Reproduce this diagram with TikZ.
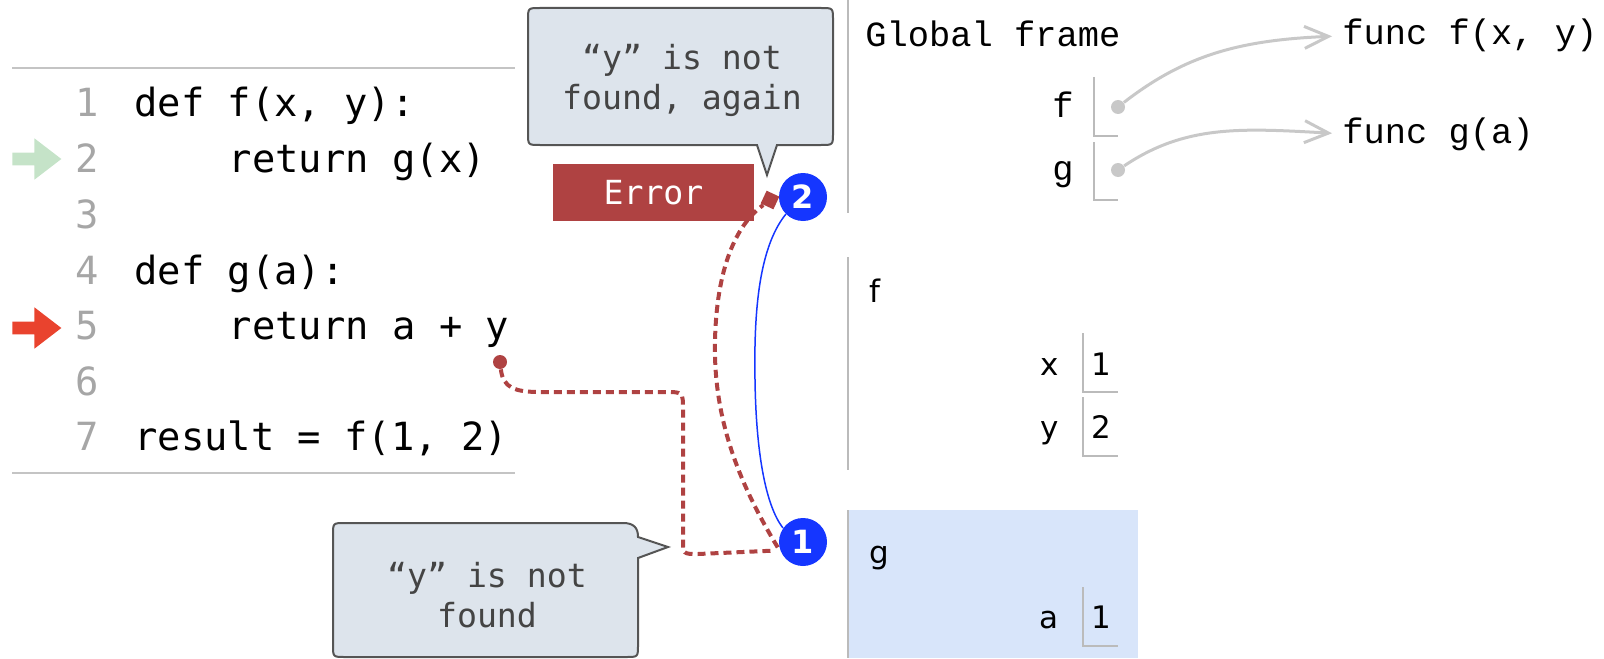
\documentclass[tikz,border=0pt]{standalone}
\usepackage{fontspec}
\setmainfont{DejaVu Sans}
\newfontfamily\codefont{DejaVu Sans Mono}
\newfontfamily\framefont{Liberation Mono}
\usetikzlibrary{arrows.meta,shapes.arrows}
\definecolor{numgray}{HTML}{A6A6A6}
\definecolor{rulegray}{HTML}{C4C4C4}
\definecolor{prevgreen}{HTML}{C5E3C8}
\definecolor{currred}{HTML}{E9432E}
\definecolor{notefill}{HTML}{DDE4EC}
\definecolor{notedraw}{HTML}{555555}
\definecolor{notetext}{HTML}{444444}
\definecolor{errred}{HTML}{AF4242}
\definecolor{hopblue}{HTML}{1536FF}
\definecolor{ptrgray}{HTML}{C8C8C8}
\definecolor{framegray}{HTML}{BBBBBB}
\definecolor{frameblue}{HTML}{D8E5FA}
\begin{document}
\begin{tikzpicture}[x=0.5pt,y=-0.5pt,
    code/.style={inner sep=0pt,anchor=base west,font=\codefont\fontsize{19.4pt}{24pt}\selectfont},
    lineno/.style={inner sep=0pt,anchor=base east,text=numgray,font=\codefont\fontsize{19.4pt}{24pt}\selectfont},
    linemark/.style={single arrow,anchor=tip,inner xsep=0pt,inner ysep=3pt,minimum height=24.5pt,minimum width=13pt,single arrow tip angle=75},
    rule/.style={draw=rulegray,line width=1pt},
    bubble/.style={fill=notefill,draw=notedraw,line width=1pt},
    note/.style={inner sep=0pt,align=center,text=notetext,font=\codefont\fontsize{16.6pt}{20pt}\selectfont},
    errbox/.style={fill=errred,text=white,inner sep=0pt,minimum width=100.5pt,minimum height=28.5pt,font=\codefont\fontsize{16.6pt}{20pt}\selectfont},
    hopmark/.style={circle,fill=hopblue,text=white,inner sep=0pt,minimum size=24pt,font=\bfseries\fontsize{16pt}{16pt}\selectfont},
    hopline/.style={draw=hopblue,line width=0.75pt},
    errpath/.style={draw=errred,line width=2pt,dash pattern=on 4pt off 2.5pt},
    frameline/.style={draw=framegray,line width=1pt},
    slot/.style={draw=framegray,line width=1pt},
    framename/.style={inner sep=0pt,anchor=base west,font=\framefont\fontsize{17.7pt}{20pt}\selectfont},
    gvar/.style={inner sep=0pt,anchor=base east,font=\framefont\fontsize{17.7pt}{20pt}\selectfont},
    fhead/.style={inner sep=0pt,anchor=base west,font=\fontsize{15.5pt}{18pt}\selectfont},
    lvar/.style={inner sep=0pt,anchor=base east,font=\fontsize{15.5pt}{18pt}\selectfont},
    lval/.style={inner sep=0pt,anchor=base west,font=\fontsize{15.5pt}{18pt}\selectfont},
    refdot/.style={circle,fill=ptrgray,inner sep=0pt,minimum size=7pt},
    ptr/.style={draw=ptrgray,line width=1.5pt,-{Straight Barb[length=12pt,width=11pt]},shorten >=5pt}]
    \useasboundingbox (0,0) rectangle (1604,658);
    % code listing
    \draw[rule] (12,68) -- (515,68);
    \draw[rule] (12,473) -- (515,473);
    \node[lineno] (n1) at (99,117) {1};
    \node[lineno] (n2) at (99,172.5) {2};
    \node[lineno] (n3) at (99,228) {3};
    \node[lineno] (n4) at (99,284) {4};
    \node[lineno] (n5) at (99,339.5) {5};
    \node[lineno] (n6) at (99,395) {6};
    \node[lineno] (n7) at (99,450.5) {7};
    \node[code] (c1) at (134,117) {def f(x, y):};
    \node[code] (c2) at (228.5,172.5) {return g(x)};
    \node[code] (c4) at (134,284) {def g(a):};
    \node[code] (c5) at (228.5,339.5) {return a + y};
    \node[code] (c7) at (134,450.5) {result = f(1, 2)};
    \node[linemark,fill=prevgreen] (prevmark) at (62,159) {};
    \node[linemark,fill=currred] (curmark) at (62,328) {};
    % callouts
    \draw[bubble] (540,8) -- (821,8) .. controls (833,8) .. (833,20) -- (833,133) .. controls (833,145) .. (821,145) -- (777,145) -- (767,175) -- (757,145) -- (540,145) .. controls (528,145) .. (528,133) -- (528,20) .. controls (528,8) .. cycle;
    \node[note] (againnote) at (682,80) {“y” is not\\found, again};
    \draw[bubble] (638,558) -- (638,645) .. controls (638,657) .. (626,657) -- (345,657) .. controls (333,657) .. (333,645) -- (333,535) .. controls (333,523) .. (345,523) -- (623,523) .. controls (634,523) and (638,528) .. (638,537) -- (668,547) -- cycle;
    \node[note] (firstnote) at (487,595) {“y” is not\\found};
    \node[errbox] (err) at (653.5,192.5) {Error};
    % lookups
    \node[hopmark] (hopone) at (803,542) {1};
    \node[hopmark] (hoptwo) at (803,197) {2};
    \node[circle,fill=errred,inner sep=0pt,minimum size=7pt] (ydot) at (500,362) {};
    \node[fill=errred,inner sep=0pt,minimum size=7pt,rotate=-25] (errsq) at (770,200) {};
    \draw[hopline] (hoptwo.225) .. controls (757,250) and (754,320) .. (755,380) .. controls (756,450) and (765,505) .. (hopone.145);
    \draw[errpath,shorten >=4pt] (ydot) .. controls (503,388) and (515,392) .. (540,392) -- (665,392) .. controls (683,392) .. (683,410) -- (683,540) .. controls (683,554) .. (698,554) -- (hopone.200);
    \draw[errpath,shorten <=4pt] (hopone.210) .. controls (740,485) and (713,420) .. (715,340) .. controls (717,260) and (740,222) .. (errsq);
    % frames
    \draw[frameline] (848,0) -- (848,213);
    \node[framename] (globalname) at (865,47) {Global frame};
    \node[gvar] (fname) at (1074,118) {f};
    \node[gvar] (gname) at (1074,180) {g};
    \draw[slot] (1094,77) |- (1118,136);
    \draw[slot] (1094,142) |- (1118,200);
    \node[refdot] (fdot) at (1118,107) {};
    \node[refdot] (gdot) at (1118,170) {};
    \node[framename] (funcf) at (1342,45) {func f(x, y)};
    \node[framename] (funcg) at (1342,143) {func g(a)};
    \draw[ptr] (fdot) .. controls (1185,55) and (1240,40) .. (funcf.west);
    \draw[ptr] (gdot) .. controls (1185,125) and (1240,128) .. (funcg.west);
    \draw[frameline] (848,257) -- (848,470);
    \node[fhead] (fframe) at (869,302) {f};
    \node[lvar] (xname) at (1059,375) {x};
    \node[lval] (xval) at (1091,375) {1};
    \node[lvar] (yname) at (1059,438) {y};
    \node[lval] (yval) at (1091,438) {2};
    \draw[slot] (1083,333) |- (1118,392);
    \draw[slot] (1083,397) |- (1118,456);
    \fill[frameblue] (848,510) rectangle (1138,658);
    \draw[frameline] (848,510) -- (848,658);
    \node[fhead] (gframe) at (869,563) {g};
    \node[lvar] (aname) at (1059,628) {a};
    \node[lval] (aval) at (1091,628) {1};
    \draw[slot] (1083,587) |- (1118,646);
\end{tikzpicture}
\end{document}
